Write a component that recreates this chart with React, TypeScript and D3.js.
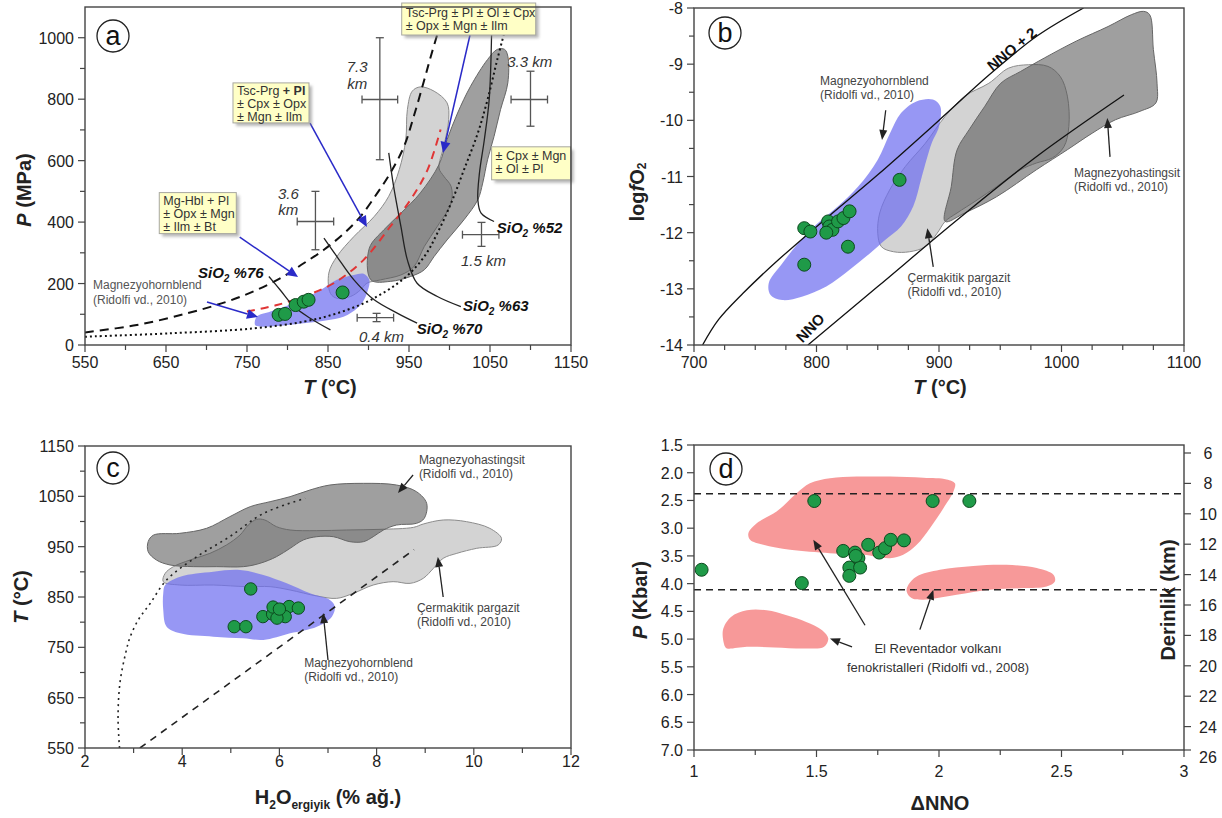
import React from "react";
import * as d3 from "d3";

type Pt = [number, number];
const FONT = "Arial, 'Liberation Sans', Helvetica, sans-serif";

// ---------------- Panel (a): T (°C) vs P (MPa) ----------------
const aXMajor = [550, 650, 750, 850, 950, 1050, 1150];
const aXMinor = [600, 700, 800, 900, 1000, 1100];
const aYMajor = [0, 200, 400, 600, 800, 1000];
const aYMinor = [100, 300, 500, 700, 900];
const aBlackDashed: Pt[] = [[550, 41], [614, 65], [676, 103], [725, 141], [762, 179], [795, 223], [820, 266], [845, 310], [870, 364], [890, 418], [911, 495], [927, 560], [944, 647], [956, 745], [969, 864], [977, 940], [986, 1020]];
const aBlackDotted: Pt[] = [[550, 27], [655, 38], [758, 54], [820, 76], [861, 103], [903, 147], [944, 217], [969, 288], [985, 364], [1002, 462], [1018, 571], [1035, 690], [1047, 799], [1059, 929], [1068, 1020]];
const aRedDashed: Pt[] = [[750, 109], [787, 130], [820, 158], [857, 201], [894, 277], [927, 386], [952, 473], [973, 571], [989, 701]];
const aCermakitik: Pt[] = [[853, 168], [851, 234], [861, 288], [882, 353], [907, 418], [925, 484], [938, 571], [946, 668], [948, 766], [954, 826], [964, 840], [981, 826], [997, 788], [999, 734], [993, 647], [987, 576], [993, 549], [1002, 516], [1002, 462], [985, 386], [969, 321], [956, 255], [940, 228], [915, 212], [898, 201], [890, 179], [878, 158], [861, 152]];
const aHastingsit: Pt[] = [[1068, 962], [1072, 940], [1072, 853], [1063, 766], [1055, 679], [1047, 603], [1041, 527], [1035, 473], [1018, 408], [997, 342], [981, 288], [969, 245], [952, 223], [927, 207], [903, 212], [901, 315], [919, 375], [940, 429], [964, 495], [987, 587], [997, 668], [1010, 755], [1026, 842], [1047, 929], [1059, 962]];
const aHornblend: Pt[] = [[760, 65], [762, 92], [779, 109], [812, 141], [841, 179], [861, 212], [882, 228], [894, 232], [901, 212], [898, 168], [890, 130], [874, 98], [853, 82], [820, 71], [787, 62], [766, 60]];
const aSamples: Pt[] = [[789, 98], [797, 101], [810, 130], [820, 141], [826, 147], [868, 171]];
const aSiO2_76: Pt[] = [[777, 223], [791, 179], [808, 125], [828, 87], [853, 49]];
const aSiO2_70: Pt[] = [[845, 348], [861, 288], [882, 212], [907, 147], [936, 103], [960, 71]];
const aSiO2_63: Pt[] = [[925, 625], [931, 516], [940, 386], [948, 277], [960, 201], [985, 158], [1014, 125]];
const aSiO2_52: Pt[] = [[1052, 1020], [1049, 799], [1043, 668], [1037, 560], [1035, 473], [1039, 429], [1055, 402]];
// error crosses: [T, P, Tmin, Tmax, Pmin, Pmax]
const aErrorBars: number[][] = [[914, 799, 892, 936, 603, 1000], [834.5, 402, 812, 857, 310, 500], [1100, 799, 1076, 1121, 712, 891], [1039.5, 359, 1016, 1061, 321, 399], [910, 89, 886, 931, 76, 103]];
const aDepthText = ["7.3", "km", "3.6", "km", "3.3 km", "1.5 km", "0.4 km"];
const aDepthPos: Pt[] = [[886, 888], [886, 833], [801, 475], [801, 423], [1099, 905], [1042, 257], [916, 10]];
const aSiO2Text = ["%76", "%70", "%63", "%52"];
const aSiO2Pos: Pt[] = [[689.5, 218], [959.5, 36], [1016.7, 111], [1058.3, 365]];
// box lines: [regular part, bold part]
const aBoxText: string[][][] = [
  [["Tsc-Prg ± Pl ± Ol ± Cpx", ""], ["± Opx ± Mgn ± Ilm", ""]],
  [["Tsc-Prg ", "+ Pl"], ["± Cpx ± Opx", ""], ["± Mgn ± Ilm", ""]],
  [["Mg-Hbl + Pl", ""], ["± Opx ± Mgn", ""], ["± Ilm ± Bt", ""]],
  [["± Cpx ± Mgn", ""], ["± Ol ± Pl", ""]],
];
const aBoxPos: Pt[] = [[941, 1113], [732.7, 853], [641.7, 496], [1052, 645]];
const aBoxSize: Pt[] = [[134, 32], [76, 40], [77, 41], [79, 33]];
const aBlueArrows: number[][] = [[1025.3, 1009, 992, 625], [827.8, 722, 898, 384], [741, 351, 813, 221], [700.6, 140, 763.6, 91]];

// ---------------- Panel (b): T vs log fO2 ----------------
const bXMajor = [700, 800, 900, 1000, 1100];
const bXMinor = [725, 750, 775, 825, 850, 875, 925, 950, 975, 1025, 1050, 1075];
const bYMajor = [-8, -9, -10, -11, -12, -13, -14];
const bYMinor = [-8.5, -9.5, -10.5, -11.5, -12.5, -13.5];
const bNNO2: Pt[] = [[707, -14.0], [720, -13.55], [740, -13.08], [766, -12.54], [805, -11.8], [850, -10.97], [899, -10.02], [941, -9.19], [980, -8.5], [1018, -8.0]];
const bNNO: Pt[] = [[793, -14.0], [850, -12.96], [915, -11.77], [980, -10.64], [1051, -9.55]];
const bCermakitik: Pt[] = [[850, -12.01], [851.6, -11.65], [859.7, -11.24], [872.6, -10.82], [888.8, -10.41], [905, -9.93], [921, -9.57], [940.7, -9.34], [956.9, -9.07], [973, -9.01], [989, -9.04], [999, -9.22], [1004.8, -9.57], [1006, -10.11], [1002, -10.47], [992.5, -10.67], [979.5, -10.76], [966.6, -10.88], [947, -11.18], [931, -11.42], [914.7, -11.65], [905, -11.8], [898.5, -12.01], [888.8, -12.25], [875.9, -12.34], [863, -12.34], [853, -12.25]];
const bHastingsit: Pt[] = [[905, -11.8], [910, -11.18], [914.7, -10.53], [924.5, -10.17], [937.4, -9.75], [950.4, -9.34], [966.6, -9.13], [986, -8.89], [1012, -8.59], [1038, -8.33], [1057, -8.12], [1067, -8.06], [1072, -8.12], [1075, -8.74], [1078, -9.34], [1077, -9.69], [1064, -9.84], [1044, -9.99], [1025, -10.23], [1005, -10.52], [979.5, -10.88], [947, -11.36], [921, -11.65]];
const bHornblend: Pt[] = [[762.5, -13.11], [761, -12.9], [772, -12.55], [785, -12.19], [798, -11.89], [817.6, -11.53], [834, -11.18], [850, -10.7], [860, -10.23], [869, -9.87], [882, -9.66], [895, -9.63], [901, -9.75], [900, -10.11], [894, -10.41], [886, -11.0], [879, -11.53], [869, -11.89], [856, -12.13], [843.5, -12.37], [827, -12.66], [808, -12.96], [788, -13.14], [772, -13.2]];
const bSamples: Pt[] = [[790, -11.92], [795, -11.98], [790, -12.57], [809.5, -11.8], [810.5, -11.89], [813, -11.95], [817.6, -11.8], [822, -11.74], [827, -11.62], [825.7, -12.25], [867.8, -11.06], [808, -12.0]];
const bLabelText: string[][] = [["Magnezyohornblend", "(Ridolfi vd., 2010)"], ["Magnezyohastingsit", "(Ridolfi vd., 2010)"], ["Çermakitik pargazit", "(Ridolfi vd., 2010)"]];
const bLabelPos: Pt[] = [[802.9, -9.37], [1010.2, -11.01], [874.3, -12.88]];
const bArrows: number[][] = [[856.5, -9.82, 853.5, -10.35], [1039.6, -10.65, 1037.4, -9.96], [895.3, -12.61, 890.5, -11.92]];

// ---------------- Panel (c): H2O melt vs T ----------------
const cXMajor = [2, 4, 6, 8, 10, 12];
const cXMinor = [3, 5, 7, 9, 11];
const cYMajor = [550, 650, 750, 850, 950, 1050, 1150];
const cYMinor = [600, 700, 800, 900, 1000, 1100];
const cHastingsit: Pt[] = [[3.3, 960], [3.41, 973], [3.95, 976.5], [4.5, 986.4], [4.98, 1009.6], [5.4, 1029.5], [5.81, 1039.4], [6.22, 1049.3], [6.63, 1062.6], [7.04, 1072.5], [7.73, 1075.8], [8.41, 1072.5], [8.82, 1059.3], [9.03, 1036.1], [8.98, 1006.3], [8.82, 996.3], [8.41, 993], [8.14, 983], [7.93, 969.8], [7.73, 959.9], [7.45, 959.9], [7.11, 969.8], [6.77, 969.8], [6.49, 963.2], [6.22, 946.7], [5.94, 930.1], [5.6, 916.9], [5.26, 910.3], [4.71, 910.3], [4.23, 910.3], [3.75, 913.6], [3.47, 923.5], [3.3, 940]];
const cCermakitik: Pt[] = [[3.61, 880.5], [3.65, 897], [3.82, 910.3], [4.16, 923.5], [4.57, 936.7], [4.91, 953.3], [5.19, 973.2], [5.36, 993], [5.53, 1004.3], [5.7, 1003], [5.94, 989.7], [6.22, 983.1], [6.77, 981.8], [7.38, 983.1], [8.07, 984.4], [8.76, 988.4], [8.96, 995], [9.37, 1003], [9.85, 999.7], [10.33, 986.4], [10.57, 966.5], [10.5, 953.3], [10.06, 946.7], [9.65, 936.7], [9.37, 926.8], [9.17, 907], [8.96, 887.1], [8.69, 877.1], [8.34, 880.5], [7.93, 873.8], [7.52, 857.3], [7.18, 847.3], [6.77, 852], [6.22, 863.9], [5.81, 870.5], [5.33, 870.5], [4.64, 873.8], [3.95, 873.8]];
const cHornblend: Pt[] = [[3.65, 873.8], [3.96, 890.4], [4.64, 900.3], [5.19, 903.6], [5.67, 893.7], [6.15, 877.1], [6.63, 857.3], [7.04, 844.1], [7.14, 830.8], [7.08, 811], [6.77, 791], [6.22, 777.8], [5.67, 764.6], [5.26, 767.9], [4.64, 771.2], [3.96, 777.8], [3.68, 791], [3.61, 824.2], [3.61, 857.3]];
const cSamples: Pt[] = [[5.41, 866], [5.07, 791], [5.31, 791], [5.66, 811], [5.86, 816], [5.87, 830], [6.05, 824], [6.2, 831], [6.39, 828], [6.12, 811], [5.95, 808], [6.0, 826]];
const cDotted: Pt[] = [[2.71, 550], [2.68, 610], [2.72, 680], [2.84, 740], [2.93, 771], [3.1, 805], [3.34, 837], [3.68, 884], [4.3, 930], [4.98, 970], [5.67, 1016], [6.53, 1046]];
const cDashed: Pt[] = [[3.13, 550], [8.77, 944]];
const cLabelText: string[][] = [["Magnezyohastingsit", "(Ridolfi vd., 2010)"], ["Çermakitik pargazit", "(Ridolfi vd., 2010)"], ["Magnezyohornblend", "(Ridolfi vd., 2010)"]];
const cLabelPos: Pt[] = [[8.87, 1114], [8.83, 820], [6.51, 711]];
const cArrows: number[][] = [[8.75, 1092.4, 8.44, 1056.6], [9.37, 850, 9.26, 929.5], [7.0, 724.8, 6.9, 818]];

// ---------------- Panel (d): ΔNNO vs P (kbar) ----------------
const dXMajor = [1, 1.5, 2, 2.5, 3];
const dXMinor = [1.25, 1.75, 2.25, 2.75];
const dYMajor = [1.5, 2.0, 2.5, 3.0, 3.5, 4.0, 4.5, 5.0, 5.5, 6.0, 6.5, 7.0];
const dDepthTicks = [6, 8, 10, 12, 14, 16, 18, 20, 22, 24, 26];
const dLevels = [2.38, 4.11];
const dRegionUpper: Pt[] = [[1.222, 3.09], [1.256, 2.91], [1.337, 2.7], [1.419, 2.37], [1.473, 2.19], [1.555, 2.1], [1.664, 2.07], [1.8, 2.07], [1.936, 2.09], [2.031, 2.12], [2.065, 2.19], [2.059, 2.34], [2.018, 2.64], [1.963, 3.0], [1.909, 3.3], [1.854, 3.48], [1.8, 3.54], [1.691, 3.48], [1.555, 3.45], [1.392, 3.39], [1.283, 3.3], [1.229, 3.21]];
const dRegionMiddle: Pt[] = [[1.875, 4.02], [1.909, 3.87], [2.004, 3.75], [2.14, 3.68], [2.276, 3.66], [2.399, 3.72], [2.467, 3.84], [2.473, 3.96], [2.439, 4.05], [2.344, 4.08], [2.208, 4.11], [2.072, 4.2], [1.936, 4.29], [1.888, 4.26], [1.868, 4.14]];
const dRegionLower: Pt[] = [[1.127, 5.14], [1.118, 4.84], [1.151, 4.6], [1.216, 4.48], [1.297, 4.48], [1.378, 4.57], [1.458, 4.69], [1.523, 4.84], [1.548, 4.99], [1.531, 5.14], [1.458, 5.17], [1.329, 5.15], [1.216, 5.14], [1.135, 5.17]];
const dSamples: Pt[] = [[1.491, 2.51], [1.974, 2.51], [2.124, 2.51], [1.031, 3.75], [1.44, 3.99], [1.609, 3.41], [1.657, 3.44], [1.671, 3.54], [1.711, 3.3], [1.756, 3.44], [1.78, 3.36], [1.803, 3.21], [1.857, 3.22], [1.634, 3.71], [1.678, 3.71], [1.634, 3.86], [1.66, 3.5]];
const dArrows: number[][] = [[1.698, 4.75, 1.487, 3.21], [1.922, 4.83, 1.977, 4.11], [1.645, 5.14, 1.555, 4.99]];
const dLabelText = ["El Reventador volkanı", "fenokristalleri (Ridolfi vd., 2008)"];
const dLabelPos: Pt[] = [[1.996, 5.25], [1.996, 5.59]];

type Lin = d3.ScaleLinear<number, number>;

function Axes(p: {
  xs: Lin; ys: Lin; xMajor: number[]; xMinor: number[]; yMajor: number[]; yMinor: number[];
  xFmt?: (v: number) => string; yFmt?: (v: number) => string; xLabDy: number;
}) {
  const { xs, ys } = p;
  const [xa, xb] = xs.range();
  const yTop = Math.min(...ys.range());
  const yBot = Math.max(...ys.range());
  const xf = p.xFmt || ((v: number) => String(v));
  const yf = p.yFmt || ((v: number) => String(v));
  const tc = "#444";
  return (
    <g fontFamily={FONT} fontSize={16} fill="#222">
      <rect x={xa} y={yTop} width={xb - xa} height={yBot - yTop} fill="none" stroke="#444" strokeWidth={1.4} />
      {p.xMinor.map((v, i) => <line key={"xm" + i} x1={xs(v)} x2={xs(v)} y1={yBot} y2={yBot + 5} stroke={tc} strokeWidth={1.2} />)}
      {p.xMajor.map((v, i) => (
        <g key={"xM" + i}>
          <line x1={xs(v)} x2={xs(v)} y1={yBot} y2={yBot + 7} stroke={tc} strokeWidth={1.2} />
          <text x={xs(v)} y={yBot + p.xLabDy} textAnchor="middle">{xf(v)}</text>
        </g>
      ))}
      {p.yMinor.map((v, i) => <line key={"ym" + i} x1={xa - 5} x2={xa} y1={ys(v)} y2={ys(v)} stroke={tc} strokeWidth={1.2} />)}
      {p.yMajor.map((v, i) => (
        <g key={"yM" + i}>
          <line x1={xa - 7} x2={xa} y1={ys(v)} y2={ys(v)} stroke={tc} strokeWidth={1.2} />
          <text x={xa - 11} y={ys(v) + 6} textAnchor="end">{yf(v)}</text>
        </g>
      ))}
    </g>
  );
}

function Arrow(p: { x1: number; y1: number; x2: number; y2: number; color: string; w?: number; head?: number; hw?: number }) {
  const head = p.head ?? 10, hw = p.hw ?? 4;
  const dx = p.x2 - p.x1, dy = p.y2 - p.y1;
  const L = Math.hypot(dx, dy);
  const ux = dx / L, uy = dy / L;
  const bx = p.x2 - ux * head, by = p.y2 - uy * head;
  const pts = `${p.x2},${p.y2} ${bx - uy * hw},${by + ux * hw} ${bx + uy * hw},${by - ux * hw}`;
  return (
    <g>
      <line x1={p.x1} y1={p.y1} x2={bx} y2={by} stroke={p.color} strokeWidth={p.w ?? 1.4} />
      <polygon points={pts} fill={p.color} />
    </g>
  );
}

function Badge({ x, y, t }: { x: number; y: number; t: string }) {
  return (
    <g>
      <circle cx={x} cy={y} r={16} fill="white" stroke="#222" strokeWidth={1.3} />
      <text x={x} y={y + 9} textAnchor="middle" fontFamily={FONT} fontSize={27} fill="#111">{t}</text>
    </g>
  );
}

function Dots({ data, xs, ys, r }: { data: Pt[]; xs: Lin; ys: Lin; r: number }) {
  return (
    <g>
      {data.map((d, i) => <circle key={i} cx={xs(d[0])} cy={ys(d[1])} r={r} fill="#1f9a48" stroke="#0c4a1e" strokeWidth={1} />)}
    </g>
  );
}

function mk(xs: Lin, ys: Lin) {
  const open = d3.line<Pt>().x(d => xs(d[0])).y(d => ys(d[1])).curve(d3.curveCatmullRom.alpha(0.5));
  const closed = d3.line<Pt>().x(d => xs(d[0])).y(d => ys(d[1])).curve(d3.curveCatmullRomClosed.alpha(0.5));
  const straight = d3.line<Pt>().x(d => xs(d[0])).y(d => ys(d[1]));
  return { open, closed, straight };
}

const LIGHT = { fill: "#d3d3d3", stroke: "#8c8c8c", strokeWidth: 1 };
const DARK = { fill: "#515151", fillOpacity: 0.55, stroke: "#666", strokeWidth: 1 };
const BLUE = { fill: "#6f6ff0", fillOpacity: 0.72, stroke: "none" };

function PanelA() {
  const xs = d3.scaleLinear().domain([550, 1150]).range([85, 571]);
  const ys = d3.scaleLinear().domain([0, 1100]).range([345, 7]);
  const { open, closed } = mk(xs, ys);
  const sioLines = [aSiO2_76, aSiO2_70, aSiO2_63, aSiO2_52];
  return (
    <g>
      <defs>
        <clipPath id="clipA"><rect x={85} y={7} width={486} height={338} /></clipPath>
        <filter id="shadow" x="-20%" y="-20%" width="140%" height="140%"><feGaussianBlur stdDeviation={1.5} /></filter>
      </defs>
      <g clipPath="url(#clipA)">
        <path d={closed(aCermakitik) || ""} {...LIGHT} />
        <path d={closed(aHastingsit) || ""} {...DARK} />
        <path d={closed(aHornblend) || ""} {...BLUE} />
        <path d={open(aRedDashed) || ""} fill="none" stroke="#e03535" strokeWidth={2} strokeDasharray="8,6" />
        <path d={open(aBlackDashed) || ""} fill="none" stroke="#111" strokeWidth={2} strokeDasharray="9,6" />
        <path d={open(aBlackDotted) || ""} fill="none" stroke="#111" strokeWidth={2} strokeDasharray="2,3" />
        {sioLines.map((l, i) => <path key={i} d={open(l) || ""} fill="none" stroke="#222" strokeWidth={1.3} />)}
      </g>
      {aErrorBars.map((e, i) => (
        <g key={i} stroke="#555" strokeWidth={1.3}>
          <line x1={xs(e[2])} x2={xs(e[3])} y1={ys(e[1])} y2={ys(e[1])} />
          <line x1={xs(e[0])} x2={xs(e[0])} y1={ys(e[4])} y2={ys(e[5])} />
          <line x1={xs(e[2])} x2={xs(e[2])} y1={ys(e[1]) - 4} y2={ys(e[1]) + 4} />
          <line x1={xs(e[3])} x2={xs(e[3])} y1={ys(e[1]) - 4} y2={ys(e[1]) + 4} />
          <line x1={xs(e[0]) - 4} x2={xs(e[0]) + 4} y1={ys(e[4])} y2={ys(e[4])} />
          <line x1={xs(e[0]) - 4} x2={xs(e[0]) + 4} y1={ys(e[5])} y2={ys(e[5])} />
        </g>
      ))}
      <Dots data={aSamples} xs={xs} ys={ys} r={6.5} />
      {aDepthText.map((t, i) => (
        <text key={i} x={xs(aDepthPos[i][0])} y={ys(aDepthPos[i][1])} textAnchor="middle" fontFamily={FONT} fontStyle="italic" fontSize={15} fill="#333">{t}</text>
      ))}
      {aSiO2Text.map((t, i) => (
        <text key={i} x={xs(aSiO2Pos[i][0])} y={ys(aSiO2Pos[i][1])} fontFamily={FONT} fontStyle="italic" fontWeight="bold" fontSize={15} fill="#111">
          SiO<tspan dy={4} fontSize={10}>2</tspan><tspan dy={-4}>{" " + t}</tspan>
        </text>
      ))}
      <text x={xs(559.9)} y={ys(182)} fontFamily={FONT} fontSize={12} fill="#555">Magnezyohornblend</text>
      <text x={xs(559.9)} y={ys(133)} fontFamily={FONT} fontSize={12} fill="#555">(Ridolfi vd., 2010)</text>
      {aBlueArrows.map((a, i) => (
        <Arrow key={i} x1={xs(a[0])} y1={ys(a[1])} x2={xs(a[2])} y2={ys(a[3])} color="#2a2ac8" w={1.5} head={11} hw={5} />
      ))}
      {aBoxText.map((lines, i) => {
        const x = xs(aBoxPos[i][0]), y = ys(aBoxPos[i][1]);
        const [w, h] = aBoxSize[i];
        const step = lines.length === 3 ? 13.2 : 13;
        const y0 = lines.length === 3 ? 12 : 13.5;
        return (
          <g key={i}>
            <rect x={x + 3} y={y + 3} width={w} height={h} fill="#888" opacity={0.6} filter="url(#shadow)" />
            <rect x={x} y={y} width={w} height={h} fill="#ffffc6" stroke="#a8a8a0" strokeWidth={1} />
            {lines.map((ln, j) => (
              <text key={j} x={x + 4} y={y + y0 + j * step} fontFamily={FONT} fontSize={12.5} fill="#333">
                {ln[0]}{ln[1] ? <tspan fontWeight="bold">{ln[1]}</tspan> : null}
              </text>
            ))}
          </g>
        );
      })}
      <Axes xs={xs} ys={ys} xMajor={aXMajor} xMinor={aXMinor} yMajor={aYMajor} yMinor={aYMinor} xLabDy={23} />
      <Badge x={113} y={36} t="a" />
      <text transform="translate(24,190) rotate(-90)" textAnchor="middle" dominantBaseline="central" fontFamily={FONT} fontWeight="bold" fontSize={20} fill="#222">
        <tspan fontStyle="italic">P</tspan> (MPa)
      </text>
      <text x={330} y={394} textAnchor="middle" fontFamily={FONT} fontWeight="bold" fontSize={20} fill="#222">
        <tspan fontStyle="italic">T</tspan> (°C)
      </text>
    </g>
  );
}

function PanelB() {
  const xs = d3.scaleLinear().domain([700, 1100]).range([694, 1184]);
  const ys = d3.scaleLinear().domain([-14, -8]).range([345, 8]);
  const { open, closed } = mk(xs, ys);
  const ang = (a: Pt, b: Pt) => (Math.atan2(ys(b[1]) - ys(a[1]), xs(b[0]) - xs(a[0])) * 180) / Math.PI;
  const a1 = ang(bNNO2[7], bNNO2[8]);
  const a2 = ang(bNNO[0], bNNO[2]);
  return (
    <g>
      <defs><clipPath id="clipB"><rect x={694} y={8} width={490} height={337} /></clipPath></defs>
      <g clipPath="url(#clipB)">
        <path d={closed(bCermakitik) || ""} {...LIGHT} />
        <path d={closed(bHastingsit) || ""} {...DARK} />
        <path d={closed(bHornblend) || ""} {...BLUE} />
        <path d={open(bNNO2) || ""} fill="none" stroke="#111" strokeWidth={1.3} />
        <path d={open(bNNO) || ""} fill="none" stroke="#111" strokeWidth={1.3} />
      </g>
      <Dots data={bSamples} xs={xs} ys={ys} r={6.5} />
      {bLabelText.map((lines, i) => (
        <g key={i}>
          {lines.map((ln, j) => (
            <text key={j} x={xs(bLabelPos[i][0])} y={ys(bLabelPos[i][1]) + j * 14} fontFamily={FONT} fontSize={12} fill="#444">{ln}</text>
          ))}
        </g>
      ))}
      {bArrows.map((a, i) => (
        <Arrow key={i} x1={xs(a[0])} y1={ys(a[1])} x2={xs(a[2])} y2={ys(a[3])} color="#222" w={1.3} head={10} hw={4} />
      ))}
      <text transform={`translate(${xs(960.2)},${ys(-8.75)}) rotate(${a1})`} y={4} textAnchor="middle" fontFamily={FONT} fontWeight="bold" fontSize={15} fill="#111">NNO + 2</text>
      <text transform={`translate(${xs(795)},${ys(-13.7)}) rotate(${a2 - 6})`} y={5} textAnchor="middle" fontFamily={FONT} fontWeight="bold" fontSize={15} fill="#111">NNO</text>
      <Axes xs={xs} ys={ys} xMajor={bXMajor} xMinor={bXMinor} yMajor={bYMajor} yMinor={bYMinor} xLabDy={23} />
      <Badge x={725} y={33} t="b" />
      <text transform="translate(637,192) rotate(-90)" textAnchor="middle" dominantBaseline="central" fontFamily={FONT} fontWeight="bold" fontSize={20} fill="#222">
        log<tspan fontStyle="italic">f</tspan>O<tspan dy={5} fontSize={12}>2</tspan>
      </text>
      <text x={940} y={394} textAnchor="middle" fontFamily={FONT} fontWeight="bold" fontSize={20} fill="#222">
        <tspan fontStyle="italic">T</tspan> (°C)
      </text>
    </g>
  );
}

function PanelC() {
  const xs = d3.scaleLinear().domain([2, 12]).range([85, 571]);
  const ys = d3.scaleLinear().domain([550, 1150]).range([748, 446]);
  const { open, closed, straight } = mk(xs, ys);
  return (
    <g>
      <defs><clipPath id="clipC"><rect x={85} y={446} width={486} height={302} /></clipPath></defs>
      <g clipPath="url(#clipC)">
        <path d={closed(cCermakitik) || ""} {...LIGHT} />
        <path d={closed(cHastingsit) || ""} {...DARK} />
        <path d={closed(cHornblend) || ""} {...BLUE} />
        <path d={open(cDotted) || ""} fill="none" stroke="#222" strokeWidth={1.6} strokeDasharray="2,4" />
        <path d={straight(cDashed) || ""} fill="none" stroke="#222" strokeWidth={1.6} strokeDasharray="7,6" />
      </g>
      <Dots data={cSamples} xs={xs} ys={ys} r={6.2} />
      {cLabelText.map((lines, i) => (
        <g key={i}>
          {lines.map((ln, j) => (
            <text key={j} x={xs(cLabelPos[i][0])} y={ys(cLabelPos[i][1]) + j * 14} fontFamily={FONT} fontSize={12} fill="#444">{ln}</text>
          ))}
        </g>
      ))}
      {cArrows.map((a, i) => (
        <Arrow key={i} x1={xs(a[0])} y1={ys(a[1])} x2={xs(a[2])} y2={ys(a[3])} color="#222" w={1.3} head={10} hw={4} />
      ))}
      <Axes xs={xs} ys={ys} xMajor={cXMajor} xMinor={cXMinor} yMajor={cYMajor} yMinor={cYMinor} xLabDy={19} />
      <Badge x={113} y={468} t="c" />
      <text transform="translate(21,597) rotate(-90)" textAnchor="middle" dominantBaseline="central" fontFamily={FONT} fontWeight="bold" fontSize={20} fill="#222">
        <tspan fontStyle="italic">T</tspan> (°C)
      </text>
      <text x={328} y={804} textAnchor="middle" fontFamily={FONT} fontWeight="bold" fontSize={20} fill="#222">
        H<tspan dy={5} fontSize={12}>2</tspan><tspan dy={-5}>O</tspan><tspan dy={5} fontSize={12}>ergiyik</tspan><tspan dy={-5}> (% ağ.)</tspan>
      </text>
    </g>
  );
}

function PanelD() {
  const xs = d3.scaleLinear().domain([1, 3]).range([694, 1184]);
  const ys = d3.scaleLinear().domain([1.5, 7.0]).range([445, 750]);
  const depth = d3.scaleLinear().domain([6, 26]).range([453, 757]);
  const { closed } = mk(xs, ys);
  const pink = { fill: "#f79494", fillOpacity: 0.95, stroke: "none" };
  return (
    <g>
      <path d={closed(dRegionUpper) || ""} {...pink} />
      <path d={closed(dRegionMiddle) || ""} {...pink} />
      <path d={closed(dRegionLower) || ""} {...pink} />
      {dLevels.map((v, i) => (
        <line key={i} x1={694} x2={1184} y1={ys(v)} y2={ys(v)} stroke="#222" strokeWidth={1.5} strokeDasharray="7,5" />
      ))}
      <Dots data={dSamples} xs={xs} ys={ys} r={6.5} />
      {dArrows.map((a, i) => (
        <Arrow key={i} x1={xs(a[0])} y1={ys(a[1])} x2={xs(a[2])} y2={ys(a[3])} color="#222" w={1.3} head={10} hw={4} />
      ))}
      {dLabelText.map((t, i) => (
        <text key={i} x={xs(dLabelPos[i][0])} y={ys(dLabelPos[i][1])} textAnchor="middle" fontFamily={FONT} fontSize={13} fill="#333">{t}</text>
      ))}
      <Axes xs={xs} ys={ys} xMajor={dXMajor} xMinor={dXMinor} yMajor={dYMajor} yMinor={[]} yFmt={d3.format(".1f")} xLabDy={27} />
      <g fontFamily={FONT} fontSize={16} fill="#222">
        {dDepthTicks.map((v, i) => {
          const y = Math.min(depth(v), 750);
          return (
            <g key={i}>
              <line x1={1184} x2={1191} y1={y} y2={y} stroke="#444" strokeWidth={1.2} />
              <text x={1208} y={depth(v) + 6} textAnchor="middle">{v}</text>
            </g>
          );
        })}
      </g>
      <Badge x={726} y={469} t="d" />
      <text transform="translate(640,600) rotate(-90)" textAnchor="middle" dominantBaseline="central" fontFamily={FONT} fontWeight="bold" fontSize={20} fill="#222">
        <tspan fontStyle="italic">P</tspan> (Kbar)
      </text>
      <text transform="translate(1168,600) rotate(-90)" textAnchor="middle" dominantBaseline="central" fontFamily={FONT} fontWeight="bold" fontSize={20} fill="#222">
        Derinlik (km)
      </text>
      <text x={940} y={810} textAnchor="middle" fontFamily={FONT} fontWeight="bold" fontSize={20} fill="#222">ΔNNO</text>
    </g>
  );
}

export default function App() {
  return (
    <div style={{ position: "absolute", left: 0, top: 0, width: 1222, height: 818, background: "white" }}>
      <svg width={1222} height={818} viewBox="0 0 1222 818" style={{ display: "block" }}>
        <rect width={1222} height={818} fill="white" />
        <PanelA />
        <PanelB />
        <PanelC />
        <PanelD />
      </svg>
    </div>
  );
}
